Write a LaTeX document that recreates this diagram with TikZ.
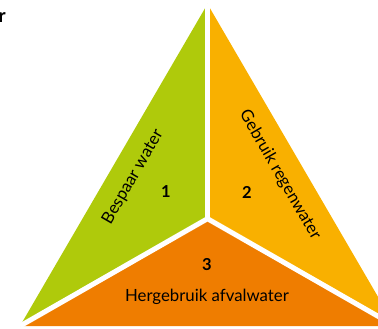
\documentclass[tikz,border=0pt]{standalone}
\usepackage{fontspec}
\setmainfont{Lato}
\definecolor{limegreen}{RGB}{175,202,11}
\definecolor{amber}{RGB}{249,176,0}
\definecolor{deeporange}{RGB}{239,125,0}
\begin{document}
\begin{tikzpicture}[x=1pt,y=-1pt,
  label/.style={font=\fontsize{16.8}{20}\selectfont, text=black, inner sep=0pt},
  num/.style={font=\bfseries\fontsize{16.5}{20}\selectfont, text=black, inner sep=0pt},
  divider/.style={white, line width=5pt}]
\useasboundingbox (0,0) rectangle (378,329);
% triangle corners and centre
\coordinate (apex) at (207.5,4);
\coordinate (bl) at (20,326);
\coordinate (br) at (395,326);
\coordinate (c) at (207.5,218.7);
% three sectors
\fill[limegreen] (apex) -- (c) -- (bl) -- cycle;
\fill[amber] (apex) -- (c) -- (br) -- cycle;
\fill[deeporange] (bl) -- (c) -- (br) -- cycle;
% white separators
\draw[divider] (apex) -- (c);
\draw[divider, line join=miter] (bl) -- (c) -- (br);
% labels
\node[label, rotate=60] (t1) at (133,177) {Bespaar water};
\node[label, rotate=-60] (t2) at (280,175) {Gebruik regenwater};
\node[label] (t3) at (207,297) {Hergebruik afvalwater};
\node[num] (n1) at (166,192) {1};
\node[num] (n2) at (247,192) {2};
\node[num] (n3) at (207,265) {3};
% heading fragment
\node[anchor=base east, inner sep=0pt, font=\bfseries\fontsize{19}{22}\selectfont] (head) at (6,23) {r};
\end{tikzpicture}
\end{document}
